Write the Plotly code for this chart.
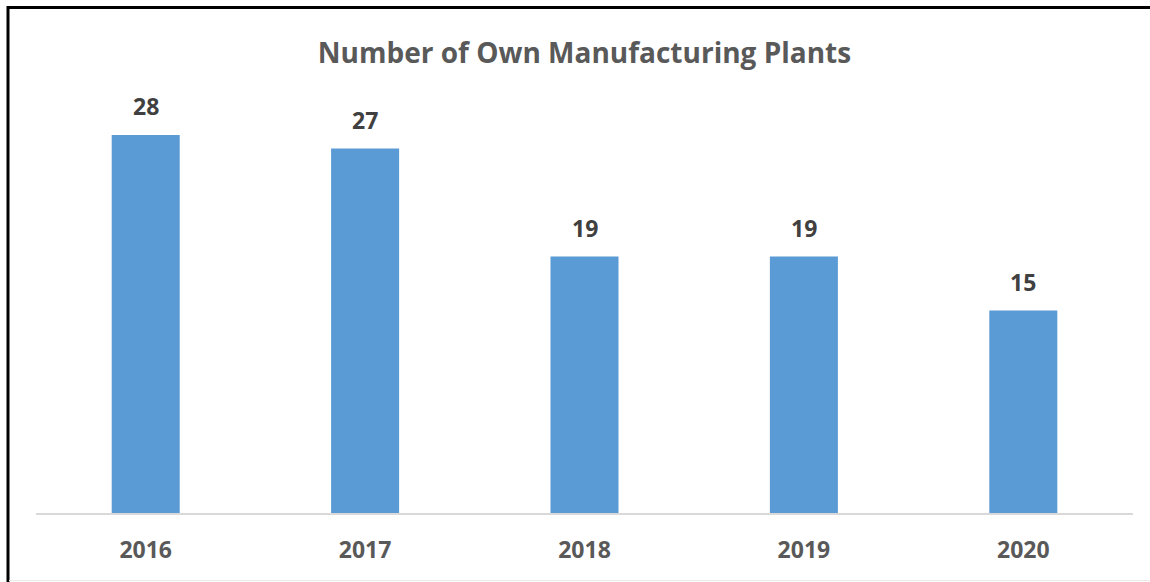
import plotly.graph_objects as go

years = ["2016", "2017", "2018", "2019", "2020"]
plants = [28, 27, 19, 19, 15]

title_text = "Number of Own Manufacturing Plants"
bar_color = "#5B9BD5"
font_family = "Open Sans, Lato, sans-serif"

W, H = 1150, 582
# plot area in pixels
left, right, top, bottom = 36, 1133, 108, 513


def px_x(p):
    return (p - left) / (right - left)


def px_y(p):
    return (bottom - p) / (bottom - top)


fig = go.Figure(
    go.Bar(
        x=years,
        y=plants,
        marker=dict(color=bar_color, line=dict(width=0)),
        width=0.31,
        hoverinfo="x+y",
    )
)

# value labels above each bar (category index positions)
for i, v in enumerate(plants):
    fig.add_annotation(
        x=i, y=v, xref="x", yref="y",
        text=str(v), showarrow=False,
        yanchor="bottom", yshift=11,
        font=dict(family=font_family, size=23, color="#404040", weight="bold"),
    )

# outer frame: heavy black top and left edges, faint bottom edge
fig.add_shape(type="line", xref="paper", yref="paper",
              x0=px_x(7), x1=px_x(1150), y0=px_y(7.5), y1=px_y(7.5),
              line=dict(color="#000000", width=3))
fig.add_shape(type="line", xref="paper", yref="paper",
              x0=px_x(8), x1=px_x(8), y0=px_y(6), y1=px_y(582),
              line=dict(color="#000000", width=3))
fig.add_shape(type="line", xref="paper", yref="paper",
              x0=px_x(9), x1=px_x(1150), y0=px_y(580.5), y1=px_y(580.5),
              line=dict(color="#EBEBEB", width=1))

fig.update_layout(
    width=W, height=H,
    margin=dict(l=left, r=W - right, t=top, b=H - bottom, pad=0),
    paper_bgcolor="#FFFFFF",
    plot_bgcolor="#FFFFFF",
    showlegend=False,
    title=dict(
        text=title_text,
        x=0.5, xref="paper", xanchor="center",
        y=1 - 53 / H, yref="container", yanchor="middle",
        font=dict(family=font_family, size=28, color="#595959", weight="bold"),
    ),
    xaxis=dict(
        type="category",
        range=[-0.5, len(years) - 0.5],
        showgrid=False, zeroline=False,
        showline=True, linecolor="#D9D9D9", linewidth=1.5,
        ticks="", ticklabelstandoff=16,
        tickfont=dict(family=font_family, size=23, color="#595959", weight="bold"),
        fixedrange=True,
    ),
    yaxis=dict(
        range=[0, 30], visible=False, showgrid=False, zeroline=False,
        fixedrange=True,
    ),
)

fig.write_html("out.html")
